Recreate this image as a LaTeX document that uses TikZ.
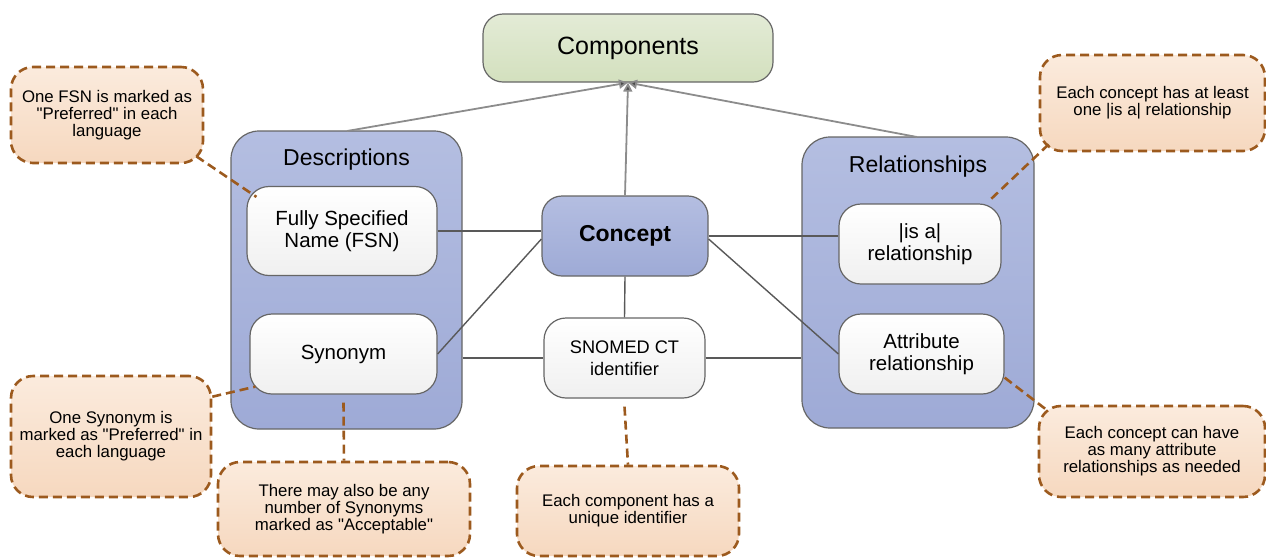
\documentclass[tikz,border=0pt]{standalone}
\usepackage{fontspec}
\setmainfont{Liberation Sans}
\usetikzlibrary{arrows.meta,positioning}

\definecolor{boxline}{HTML}{666666}
\definecolor{notebrown}{HTML}{9C5A1E}
\definecolor{notetop}{HTML}{FBEBDD}
\definecolor{notebot}{HTML}{F6D8BF}
\definecolor{grptop}{HTML}{B4BEE1}
\definecolor{grpbot}{HTML}{9EAAD6}
\definecolor{comptop}{HTML}{E3EBD6}
\definecolor{compbot}{HTML}{D3E0BE}

\begin{document}
\begin{tikzpicture}[x=1pt,y=-1pt,
    group/.style={draw=boxline,line width=1.2pt,rounded corners=28pt,
      top color=grptop,bottom color=grpbot},
    grptitle/.style={font=\fontsize{23}{27}\selectfont},
    item/.style={draw=boxline,line width=1.2pt,rounded corners=22pt,
      top color=white,bottom color=black!6,align=center,
      font=\fontsize{20.5}{22}\selectfont},
    note/.style={draw=notebrown,line width=2.6pt,dash pattern=on 9pt off 5pt,
      rounded corners=22pt,top color=notetop,bottom color=notebot,
      align=center,font=\fontsize{16.8}{17}\selectfont},
    link/.style={draw=black!65,line width=1.4pt},
    uplink/.style={draw=black!45,line width=1.8pt,-{Triangle[length=9pt,width=9pt,fill=black!70]}},
    notelink/.style={draw=notebrown,line width=2.6pt,dash pattern=on 9pt off 5pt}]
  \useasboundingbox (0,0) rectangle (1266,558);

  \node[draw=boxline,line width=1.2pt,rounded corners=20pt,top color=comptop,bottom color=compbot,
    minimum width=290pt,minimum height=68pt,font=\fontsize{25}{29}\selectfont]
    (components) at (628,48) {Components};

  \node[group,minimum width=231pt,minimum height=298pt] (desc) at (346.5,280) {};
  \node[grptitle,below=15pt of desc.north] (desctitle) {Descriptions};
  \node[item,minimum width=190pt,minimum height=89pt] (fsn) at (342,231) {Fully Specified\\Name (FSN)};
  \node[item,minimum width=187pt,minimum height=80pt] (syn) at (343.5,354) {Synonym};

  \node[draw=boxline,line width=1.2pt,rounded corners=20pt,top color=grptop,bottom color=grpbot,
    minimum width=166pt,minimum height=80pt,font=\fontsize{23}{27}\selectfont\bfseries]
    (concept) at (625,236) {Concept};
  \node[item,minimum width=161pt,minimum height=80pt,font=\fontsize{18.2}{22}\selectfont]
    (sctid) at (624.5,358) {SNOMED CT\\identifier};

  \node[group,minimum width=232pt,minimum height=291pt] (rel) at (918,282.5) {};
  \node[grptitle,below=16pt of rel.north] (reltitle) {Relationships};
  \node[item,minimum width=162pt,minimum height=80pt] (isa) at (920,244) {|is a|\\relationship};
  \node[item,minimum width=165pt,minimum height=80pt] (attr) at (921.5,354) {Attribute\\relationship};

  \node[note,minimum width=192pt,minimum height=96pt] (fsnnote) at (107,115)
    {One FSN is marked as\\\textquotedbl Preferred\textquotedbl{} in each\\language};
  \node[note,minimum width=200pt,minimum height=121pt] (synnote) at (111,436.5)
    {One Synonym is\\marked as \textquotedbl Preferred\textquotedbl{} in\\each language};
  \node[note,minimum width=252pt,minimum height=94pt] (accnote) at (344,509)
    {There may also be any\\number of Synonyms\\marked as \textquotedbl Acceptable\textquotedbl};
  \node[note,minimum width=222pt,minimum height=90pt] (idnote) at (628,511)
    {Each component has a\\unique identifier};
  \node[note,minimum width=225pt,minimum height=96pt] (isanote) at (1152.5,103)
    {Each concept has at least\\one |is a| relationship};
  \node[note,minimum width=226pt,minimum height=91pt] (attrnote) at (1152,451.5)
    {Each concept can have\\as many attribute\\relationships as needed};

  \coordinate (desctop) at (347,131);
  \coordinate (reltop) at (917,137);
  \draw[uplink] (desctop) -- (components.south);
  \draw[uplink] (reltop) -- (components.south);
  \draw[uplink] (concept.north) -- (components.south);

  \draw[link] (fsn.east) -- (fsn.east -| concept.west);
  \draw[link] (syn.east) -- ([shift={(0,3)}]concept.west);
  \draw[link] (sctid.west -| desc.east) -- (sctid.west);
  \draw[link] (concept.south) -- (sctid.north);
  \draw[link] (sctid.east) -- (sctid.east -| rel.west);
  \draw[link] (concept.east) -- (concept.east -| isa.west);
  \draw[link] ([shift={(0,3)}]concept.east) -- (attr.west);

  \draw[notelink] ([shift={(-8,-8)}]fsnnote.south east) -- ([shift={(10,11)}]fsn.north west);
  \draw[notelink] ([shift={(0,22)}]synnote.north east) -- ([shift={(6,-8)}]syn.south west);
  \draw[notelink] ([shift={(0,8)}]syn.south) -- (accnote.north);
  \draw[notelink] ([shift={(0,8)}]sctid.south) -- (idnote.north);
  \draw[notelink] ([shift={(10,-8)}]isanote.south west) -- ([shift={(-11,-4)}]isa.north east);
  \draw[notelink] ([shift={(0,-17)}]attr.south east) -- ([shift={(10,6)}]attrnote.north west);
\end{tikzpicture}
\end{document}
